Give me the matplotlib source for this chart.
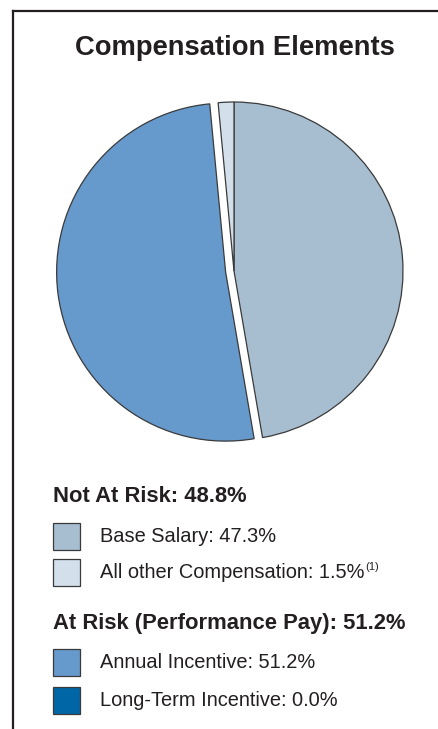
import matplotlib
matplotlib.use("Agg")
import matplotlib.pyplot as plt
from matplotlib.lines import Line2D
from matplotlib.patches import Rectangle

plt.rcParams['font.family'] = ['Liberation Sans', 'DejaVu Sans']

W, H = 438, 729

# compensation mix, in legend order
labels = ['Base Salary', 'All other Compensation', 'Annual Incentive', 'Long-Term Incentive']
shares = [47.3, 1.5, 51.2, 0.0]
colors = ['#a7bdd0', '#d3e0eb', '#6699cc', '#0066a6']
notes = ['', '(1)', '', '']

groups = ['Not At Risk', 'At Risk (Performance Pay)']
group_totals = [48.8, 51.2]
group_members = [[0, 1], [2, 3]]

# clockwise from 12 o'clock: base, annual, long-term, other
pie_order = [0, 2, 3, 1]


def fx(px):
    return px / W


def fy(py):
    return 1 - py / H


fig = plt.figure(figsize=(W / 100, H / 100), dpi=100)

# frame: top and left rules only
fig.add_artist(Line2D([fx(13), 1.0], [fy(11), fy(11)], color='#231f20', lw=1.6))
fig.add_artist(Line2D([fx(13), fx(13)], [fy(11), 0.0], color='#231f20', lw=1.6))

fig.text(fx(235), fy(48), 'Compensation Elements', ha='center', va='center',
         fontsize=19.7, fontweight='bold', color='#231f20')

# pie
cx, cy, r = 234, 271, 169
box = 420
ax = fig.add_axes([fx(cx - box / 2), fy(cy + box / 2), box / W, box / H])
vals = [shares[i] for i in pie_order if shares[i] > 0]
cols = [colors[i] for i in pie_order if shares[i] > 0]
expl = [0.05 if labels[i] == 'Annual Incentive' else 0 for i in pie_order if shares[i] > 0]
ax.pie(vals, colors=cols, explode=expl, startangle=90, counterclock=False,
       wedgeprops=dict(edgecolor='#3a3a3a', linewidth=0.9))
lim = box / 2 / r
ax.set_xlim(-lim, lim)
ax.set_ylim(-lim, lim)
ax.axis('off')

# legend
head_y = [496, 624]
item_y = [[537, 573], [663, 701]]
for g in range(2):
    fig.text(fx(53), fy(head_y[g]), f'{groups[g]}: {group_totals[g]:.1f}%',
             ha='left', va='center', fontsize=15.8, fontweight='bold', color='#231f20')
    for k, i in enumerate(group_members[g]):
        y = item_y[g][k]
        fig.add_artist(Rectangle((fx(53), fy(y + 13)), 27 / W, 27 / H,
                                 facecolor=colors[i], edgecolor='#3a3a3a', lw=0.9))
        t = fig.text(fx(100), fy(y), f'{labels[i]}: {shares[i]:.1f}%',
                     ha='left', va='center', fontsize=14.4, color='#231f20')
        if notes[i]:
            fig.canvas.draw()
            bb = t.get_window_extent()
            fig.text(bb.x1 / W + 1 / W, fy(y - 6), notes[i], ha='left', va='center',
                     fontsize=8, color='#231f20')

fig.savefig('out.png', dpi=100)
